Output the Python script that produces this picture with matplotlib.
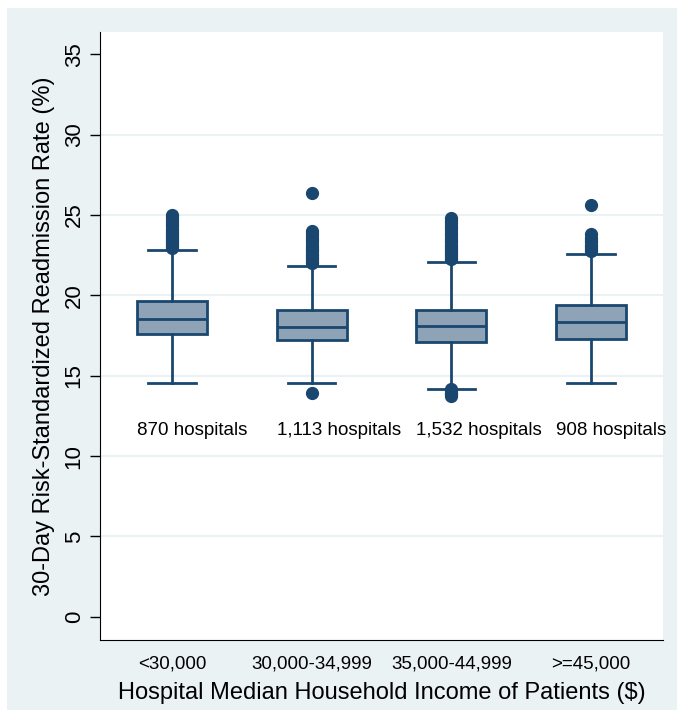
import numpy as np
import matplotlib.pyplot as plt
from matplotlib.patches import Rectangle

plt.rcParams['font.family'] = ['Liberation Sans', 'DejaVu Sans']

# income groups and box statistics
groups = ['<30,000', '30,000-34,999', '35,000-44,999', '>=45,000']
counts = ['870 hospitals', '1,113 hospitals', '1,532 hospitals', '908 hospitals']
whislo = [14.53, 14.53, 14.20, 14.53]
q1 = [17.58, 17.20, 17.12, 17.29]
med = [18.56, 18.06, 18.12, 18.33]
q3 = [19.68, 19.12, 19.10, 19.43]
whishi = [22.81, 21.84, 22.09, 22.60]
fliers = [
    [22.95, 23.05, 23.15, 23.25, 23.35, 23.45, 23.55, 23.65, 23.75, 23.85,
     23.95, 24.05, 24.15, 24.3, 24.45, 24.6, 24.75, 24.9, 25.0],
    [13.95, 22.0, 22.1, 22.2, 22.3, 22.4, 22.5, 22.6, 22.7, 22.8, 22.9,
     23.0, 23.15, 23.3, 23.45, 23.6, 23.75, 23.9, 24.0, 26.35],
    [13.75, 13.85, 13.95, 14.05, 14.15, 22.25, 22.35, 22.45, 22.55, 22.65,
     22.75, 22.85, 22.95, 23.05, 23.15, 23.3, 23.45, 23.6, 23.75, 23.9,
     24.05, 24.2, 24.35, 24.5, 24.65, 24.8],
    [22.75, 22.85, 22.95, 23.05, 23.15, 23.3, 23.45, 23.6, 23.8, 25.65],
]

navy = '#1a476f'
fill = '#8fa3b7'

fig = plt.figure(figsize=(6.84, 7.17), dpi=100, facecolor='white')
fig.patches.append(Rectangle((7 / 684, 1 - 710 / 717), 670 / 684, 702 / 717,
                             transform=fig.transFigure, facecolor='#eaf2f3',
                             edgecolor='none', zorder=-10))
ax = fig.add_axes([100 / 684, 1 - 640 / 717, 563 / 684, 608 / 717])

stats = []
for i in range(len(groups)):
    stats.append(dict(med=med[i], q1=q1[i], q3=q3[i], whislo=whislo[i],
                      whishi=whishi[i], fliers=fliers[i]))
pos = np.arange(1, len(groups) + 1)
ax.bxp(stats, positions=pos, widths=0.5, patch_artist=True,
       boxprops=dict(facecolor=fill, edgecolor=navy, linewidth=2),
       medianprops=dict(color=navy, linewidth=2),
       whiskerprops=dict(color=navy, linewidth=2),
       capprops=dict(color=navy, linewidth=2),
       capwidths=0.34,
       flierprops=dict(marker='o', markerfacecolor=navy, markeredgecolor=navy,
                       markersize=8.5, linestyle='none'))

for p, c in zip(pos, counts):
    ax.text(p - 0.25, 11.6, c, ha='left', va='center', fontsize=13.5, color='black')

ax.set_xlim(0.486, 4.514)
ax.set_ylim(-1.45, 36.4)
ax.set_yticks(np.arange(0, 36, 5))
ax.tick_params(axis='y', labelrotation=90, labelsize=16, length=7, width=1, pad=4)
for lab in ax.get_yticklabels():
    lab.set_va('center')
ax.set_xticks(pos)
ax.set_xticklabels(groups, fontsize=13.5)
ax.tick_params(axis='x', length=0, pad=11)
for y in range(5, 35, 5):
    ax.axhline(y, color='#eaf2f3', linewidth=1.5, zorder=0)
ax.spines['top'].set_visible(False)
ax.spines['right'].set_visible(False)
ax.set_ylabel('30-Day Risk-Standardized Readmission Rate (%)', fontsize=17, labelpad=6)
ax.set_xlabel('Hospital Median Household Income of Patients ($)', fontsize=17, labelpad=7)

fig.savefig('out.png', dpi=100)
